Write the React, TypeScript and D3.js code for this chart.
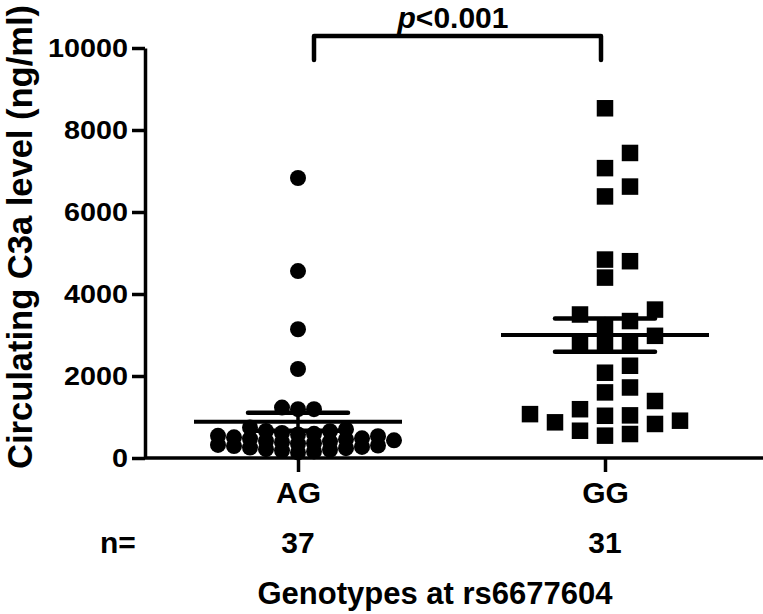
import React, { useEffect, useRef } from "react";
import * as d3 from "d3";

// genotype groups and n per group
const genotypes = ["AG", "GG"];
const groupSizes = ["37", "31"];
const yTicks = [0, 2000, 4000, 6000, 8000, 10000];

// circulating C3a (ng/ml)
const agValues = [
  6830, 4560, 3140, 2170, 1230, 1190, 1190,
  745, 700, 660, 655, 610, 590, 575, 540, 530, 505,
  480, 470, 455, 430, 415, 400, 385, 360, 350, 320,
  305, 290, 270, 255, 240, 215, 200, 180, 160, 135,
];
const ggValues = [
  8530, 7440, 7070, 6620, 6380, 4840, 4800, 4400,
  3620, 3500, 3340, 3220, 2980, 2810, 2810, 2780,
  2250, 2080, 1720, 1600, 1390, 1190, 1070, 1040,
  1030, 910, 870, 830, 665, 585, 545,
];

const yLabel = "Circulating C3a level (ng/ml)";
const xLabel = "Genotypes at rs6677604";
const pText = "<0.001";

const FONT = "'Liberation Sans', Arial, sans-serif";

// greedy column placement, the way prism spreads a column scatter
function swarm(values: number[], y: (v: number) => number, step: number, gap: number) {
  const order = values.map((_, i) => i).sort((a, b) => values[a] - values[b]);
  const cols = new Map<number, number[]>();
  const off = new Array(values.length).fill(0);
  order.forEach((i) => {
    const py = y(values[i]);
    for (let k = 0; k < 60; k++) {
      const c = k === 0 ? 0 : k % 2 ? (k + 1) / 2 : -k / 2;
      const taken = cols.get(c) || [];
      if (taken.every((t) => Math.abs(t - py) >= gap)) {
        taken.push(py);
        cols.set(c, taken);
        off[i] = c * step;
        break;
      }
    }
  });
  return off;
}

export default function App() {
  const svgRef = useRef<SVGSVGElement>(null);

  useEffect(() => {
    document.body.style.margin = "0";
    const svg = d3.select(svgRef.current);
    svg.selectAll("*").remove();

    const y = d3.scaleLinear().domain([0, 10000]).range([458, 48]);
    const x = d3.scalePoint<string>().domain(genotypes).range([298, 605]);
    const axisX0 = 145;

    // y axis
    const gy = svg
      .append("g")
      .attr("transform", `translate(${axisX0},0)`)
      .call(
        d3.axisLeft(y).tickValues(yTicks).tickSize(13).tickSizeOuter(0).tickPadding(4).tickFormat(d3.format("d"))
      );
    gy.select(".domain").attr("stroke-width", 3.5);
    gy.selectAll(".tick line").attr("stroke-width", 3.5);
    gy.selectAll<SVGTextElement, number>(".tick text")
      .attr("font-family", FONT)
      .attr("font-weight", "bold")
      .attr("font-size", 26)
      .attr("fill", "#000")
      .attr("textLength", (d) => String(d).length * 16)
      .attr("lengthAdjust", "spacingAndGlyphs");

    // x axis: line runs to the right edge
    svg
      .append("line")
      .attr("x1", axisX0)
      .attr("x2", 763)
      .attr("y1", y(0))
      .attr("y2", y(0))
      .attr("stroke", "#000")
      .attr("stroke-width", 3.5);
    const gx = svg
      .append("g")
      .attr("transform", `translate(0,${y(0)})`)
      .call(d3.axisBottom(x).tickSize(14).tickSizeOuter(0).tickPadding(10));
    gx.select(".domain").remove();
    gx.selectAll(".tick line").attr("stroke-width", 3.5);
    gx.selectAll(".tick text")
      .attr("font-family", FONT)
      .attr("font-weight", "bold")
      .attr("font-size", 30)
      .attr("fill", "#000");

    // scatter
    const groups = [
      { key: "AG", values: agValues, step: 16, gap: 8 },
      { key: "GG", values: ggValues, step: 25, gap: 17 },
    ];
    groups.forEach((g) => {
      const cx = x(g.key) as number;
      const off = swarm(g.values, y, g.step, g.gap);
      const pts = g.values.map((v, i) => ({ v, dx: off[i] }));
      if (g.key === "AG") {
        svg
          .append("g")
          .selectAll("circle")
          .data(pts)
          .join("circle")
          .attr("cx", (d) => cx + d.dx)
          .attr("cy", (d) => y(d.v))
          .attr("r", 8)
          .attr("fill", "#000");
      } else {
        const s = 16.5;
        svg
          .append("g")
          .selectAll("rect")
          .data(pts)
          .join("rect")
          .attr("x", (d) => cx + d.dx - s / 2)
          .attr("y", (d) => y(d.v) - s / 2)
          .attr("width", s)
          .attr("height", s)
          .attr("fill", "#000");
      }

      // mean with SEM
      const m = d3.mean(g.values) as number;
      const sem = (d3.deviation(g.values) as number) / Math.sqrt(g.values.length);
      const bars = svg.append("g").attr("stroke", "#000").attr("stroke-linecap", "round");
      bars
        .append("line")
        .attr("x1", cx - 104)
        .attr("x2", cx + 104)
        .attr("y1", y(m))
        .attr("y2", y(m))
        .attr("stroke-width", 4)
        .attr("stroke-linecap", "butt");
      bars
        .append("line")
        .attr("x1", cx)
        .attr("x2", cx)
        .attr("y1", y(m + sem))
        .attr("y2", y(m - sem))
        .attr("stroke-width", 3.5);
      [m + sem, m - sem].forEach((v) =>
        bars
          .append("line")
          .attr("x1", cx - 50)
          .attr("x2", cx + 50)
          .attr("y1", y(v))
          .attr("y2", y(v))
          .attr("stroke-width", 4.5)
      );
    });

    // significance bracket
    svg
      .append("path")
      .attr("d", `M${(x("AG") as number) + 16},60V36H${(x("GG") as number) - 4}V60`)
      .attr("fill", "none")
      .attr("stroke", "#000")
      .attr("stroke-width", 4.5)
      .attr("stroke-linecap", "round")
      .attr("stroke-linejoin", "round");
    const pt = svg
      .append("text")
      .attr("x", 453)
      .attr("y", 28)
      .attr("text-anchor", "middle")
      .attr("font-family", FONT)
      .attr("font-weight", "bold")
      .attr("font-size", 30);
    pt.append("tspan").attr("font-style", "italic").text("p");
    pt.append("tspan").text(pText);

    // n= row
    svg
      .append("text")
      .attr("x", 100)
      .attr("y", 553)
      .attr("font-family", FONT)
      .attr("font-weight", "bold")
      .attr("font-size", 30)
      .text("n=");
    svg
      .append("g")
      .selectAll("text")
      .data(genotypes)
      .join("text")
      .attr("x", (d) => x(d) as number)
      .attr("y", 553)
      .attr("text-anchor", "middle")
      .attr("font-family", FONT)
      .attr("font-weight", "bold")
      .attr("font-size", 30)
      .text((_, i) => groupSizes[i]);

    // axis titles
    svg
      .append("text")
      .attr("x", 435)
      .attr("y", 604)
      .attr("text-anchor", "middle")
      .attr("font-family", FONT)
      .attr("font-weight", "bold")
      .attr("font-size", 31)
      .text(xLabel);
    svg
      .append("text")
      .attr("transform", "translate(32,237) rotate(-90)")
      .attr("text-anchor", "middle")
      .attr("font-family", FONT)
      .attr("font-weight", "bold")
      .attr("font-size", 34.5)
      .text(yLabel);
  }, []);

  return (
    <svg
      ref={svgRef}
      width={763}
      height={614}
      style={{ position: "absolute", left: 0, top: 0, background: "#fff" }}
    />
  );
}
